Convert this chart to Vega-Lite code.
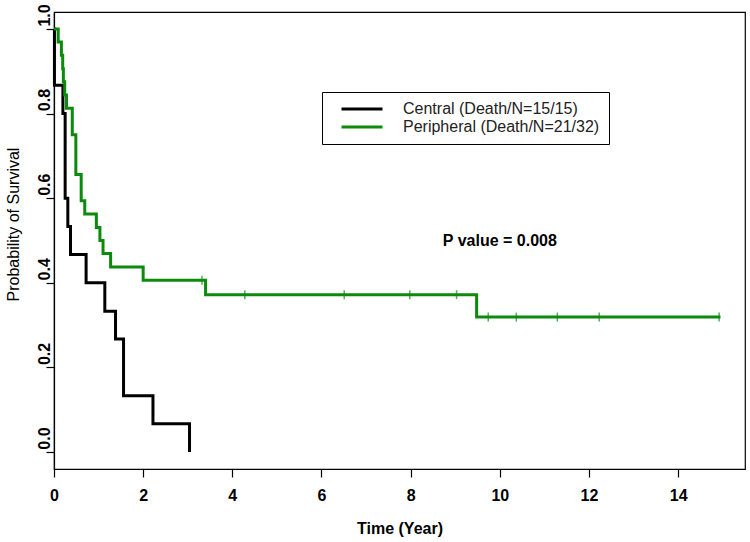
{
  "$schema": "https://vega.github.io/schema/vega-lite/v6.json",
  "width": 691,
  "height": 457,
  "autosize": {"type": "none"},
  "padding": {"left": 54, "top": 12, "right": 5, "bottom": 73},
  "background": "white",
  "config": {
    "view": {"stroke": "black", "strokeWidth": 1.2},
    "font": "Liberation Sans",
    "axis": {"domainColor": "black", "tickColor": "black", "grid": false, "labelColor": "black", "titleColor": "black", "domainWidth": 1.2, "tickWidth": 1.2}
  },
  "datasets": {
    "curves": [
      {"group": "Central (Death/N=15/15)", "time": 0, "surv": 1},
      {"group": "Central (Death/N=15/15)", "time": 0.01, "surv": 0.867},
      {"group": "Central (Death/N=15/15)", "time": 0.2, "surv": 0.8},
      {"group": "Central (Death/N=15/15)", "time": 0.25, "surv": 0.6},
      {"group": "Central (Death/N=15/15)", "time": 0.31, "surv": 0.533},
      {"group": "Central (Death/N=15/15)", "time": 0.37, "surv": 0.467},
      {"group": "Central (Death/N=15/15)", "time": 0.72, "surv": 0.4},
      {"group": "Central (Death/N=15/15)", "time": 1.14, "surv": 0.333},
      {"group": "Central (Death/N=15/15)", "time": 1.38, "surv": 0.267},
      {"group": "Central (Death/N=15/15)", "time": 1.56, "surv": 0.133},
      {"group": "Central (Death/N=15/15)", "time": 2.22, "surv": 0.067},
      {"group": "Central (Death/N=15/15)", "time": 3.04, "surv": 0},
      {"group": "Peripheral (Death/N=21/32)", "time": 0, "surv": 1},
      {"group": "Peripheral (Death/N=21/32)", "time": 0.094, "surv": 0.969},
      {"group": "Peripheral (Death/N=21/32)", "time": 0.166, "surv": 0.938},
      {"group": "Peripheral (Death/N=21/32)", "time": 0.195, "surv": 0.906},
      {"group": "Peripheral (Death/N=21/32)", "time": 0.21, "surv": 0.875},
      {"group": "Peripheral (Death/N=21/32)", "time": 0.24, "surv": 0.844},
      {"group": "Peripheral (Death/N=21/32)", "time": 0.28, "surv": 0.8125},
      {"group": "Peripheral (Death/N=21/32)", "time": 0.41, "surv": 0.75},
      {"group": "Peripheral (Death/N=21/32)", "time": 0.49, "surv": 0.656},
      {"group": "Peripheral (Death/N=21/32)", "time": 0.61, "surv": 0.594},
      {"group": "Peripheral (Death/N=21/32)", "time": 0.69, "surv": 0.5625},
      {"group": "Peripheral (Death/N=21/32)", "time": 0.95, "surv": 0.531},
      {"group": "Peripheral (Death/N=21/32)", "time": 1.03, "surv": 0.5},
      {"group": "Peripheral (Death/N=21/32)", "time": 1.1, "surv": 0.469},
      {"group": "Peripheral (Death/N=21/32)", "time": 1.27, "surv": 0.4375},
      {"group": "Peripheral (Death/N=21/32)", "time": 2.0, "surv": 0.406},
      {"group": "Peripheral (Death/N=21/32)", "time": 3.4, "surv": 0.372},
      {"group": "Peripheral (Death/N=21/32)", "time": 9.48, "surv": 0.319},
      {"group": "Peripheral (Death/N=21/32)", "time": 14.95, "surv": 0.319}
    ],
    "censor": [
      {"time": 3.32, "surv": 0.406},
      {"time": 4.28, "surv": 0.372},
      {"time": 6.51, "surv": 0.372},
      {"time": 7.98, "surv": 0.372},
      {"time": 9.03, "surv": 0.372},
      {"time": 9.74, "surv": 0.319},
      {"time": 10.37, "surv": 0.319},
      {"time": 11.29, "surv": 0.319},
      {"time": 12.23, "surv": 0.319},
      {"time": 14.92, "surv": 0.319}
    ],
    "annot": [
      {"time": 10, "surv": 0.5, "label": "P value = 0.008"}
    ]
  },
  "layer": [
    {
      "data": {"name": "curves"},
      "mark": {"type": "line", "interpolate": "step-after", "strokeWidth": 3},
      "encoding": {
        "x": {
          "field": "time", "type": "quantitative",
          "scale": {"domain": [0, 15.5], "nice": false, "zero": false},
          "axis": {
            "values": [0, 2, 4, 6, 8, 10, 12, 14],
            "title": "Time (Year)", "titleFontSize": 16, "titleFontWeight": "bold",
            "titleY": 59, "titleBaseline": "middle",
            "labelFontSize": 16, "labelFontWeight": "bold", "labelPadding": 10,
            "tickSize": 8, "labelFlush": false, "labelOverlap": false
          }
        },
        "y": {
          "field": "surv", "type": "quantitative",
          "scale": {"domain": [-0.04, 1.04], "nice": false, "zero": false},
          "axis": {
            "values": [0, 0.2, 0.4, 0.6, 0.8, 1], "format": ".1f",
            "title": "Probability of Survival", "titleFontSize": 16, "titleFontWeight": "normal",
            "titleAngle": 270, "titleX": -41, "titleY": 212, "titleAlign": "center", "titleBaseline": "middle",
            "labelAngle": 270, "labelAlign": "center", "labelBaseline": "bottom",
            "labelOffset": -14, "labelPadding": -6,
            "labelFontSize": 16, "labelFontWeight": "bold", "tickSize": 8, "labelOverlap": false
          }
        },
        "color": {
          "field": "group", "type": "nominal",
          "scale": {"domain": ["Central (Death/N=15/15)", "Peripheral (Death/N=21/32)"], "range": ["black", "#0b8a0b"]},
          "legend": {
            "title": null, "orient": "none", "legendX": 268, "legendY": 80,
            "symbolType": "M-4,0H4", "symbolStrokeWidth": 3, "symbolSize": 105, "symbolOffset": 23,
            "labelFontSize": 16, "labelFont": "Liberation Sans", "labelColor": "#222",
            "labelLimit": 400, "labelOffset": 33,
            "strokeColor": "black", "fillColor": "white", "padding": 9, "rowPadding": 2
          }
        }
      }
    },
    {
      "data": {"name": "censor"},
      "mark": {"type": "tick", "orient": "vertical", "color": "#0b8a0b", "size": 9, "thickness": 1.5},
      "encoding": {
        "x": {"field": "time", "type": "quantitative"},
        "y": {"field": "surv", "type": "quantitative"}
      }
    },
    {
      "data": {"name": "annot"},
      "mark": {"type": "text", "fontWeight": "bold", "fontSize": 16, "font": "Liberation Sans", "align": "center", "baseline": "middle", "color": "black"},
      "encoding": {
        "x": {"field": "time", "type": "quantitative"},
        "y": {"field": "surv", "type": "quantitative"},
        "text": {"field": "label"}
      }
    }
  ]
}
